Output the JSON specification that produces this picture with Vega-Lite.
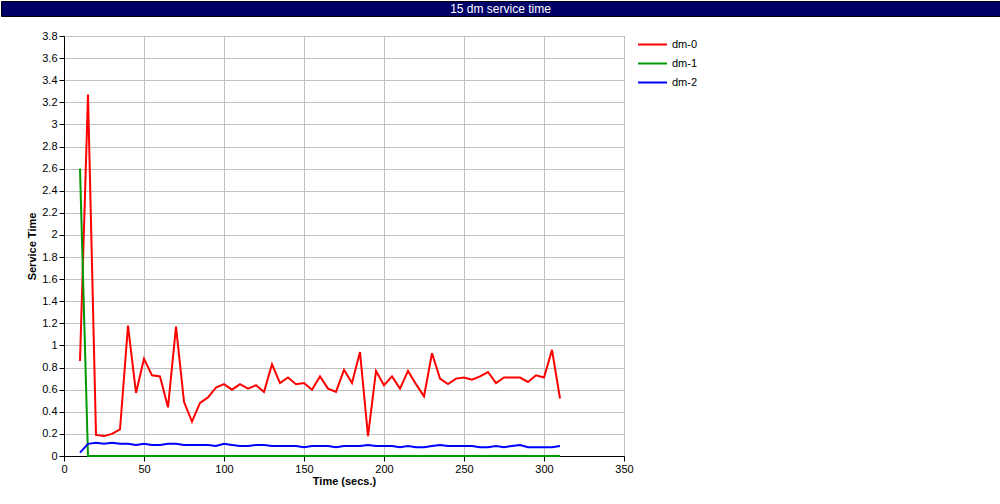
{
  "$schema": "https://vega.github.io/schema/vega-lite/v6.json",
  "padding": 0,
  "background": "white",
  "spacing": 12,
  "resolve": {"legend": {"color": "independent"}, "scale": {"color": "independent"}},
  "config": {
    "font": "Liberation Sans",
    "axis": {
      "labelFont": "Liberation Sans", "labelFontSize": 11, "labelColor": "black",
      "titleFont": "Liberation Sans", "titleFontSize": 11, "titleFontWeight": "bold", "titleColor": "black",
      "domainColor": "black", "tickColor": "black", "tickSize": 5,
      "gridColor": "#c0c0c0", "gridOpacity": 1, "grid": true
    },
    "legend": {
      "labelFont": "Liberation Sans", "labelFontSize": 11, "labelColor": "black"
    }
  },
  "vconcat": [
    {
      "width": 999,
      "height": 15,
      "view": {"fill": "#000066", "stroke": "black"},
      "data": {"values": [{"label": "15 dm service time"}]},
      "mark": {"type": "text", "color": "white", "font": "Liberation Sans", "fontSize": 12, "baseline": "middle", "align": "center"},
      "encoding": {"text": {"field": "label"}}
    },
    {
      "spacing": 0,
      "resolve": {"legend": {"color": "independent"}, "scale": {"color": "independent"}},
      "hconcat": [
        {
          "width": 25,
          "height": 10,
          "view": {"stroke": null},
          "data": {"values": [{"label": ""}]},
          "mark": {"type": "text"},
          "encoding": {"text": {"field": "label"}}
        },
        {
          "width": 560,
          "height": 420,
          "view": {"stroke": "black", "strokeWidth": 1},
          "data": {"values": [
            {"t":10,"s":"dm-0","v":0.86},{"t":15,"s":"dm-0","v":3.27},{"t":20,"s":"dm-0","v":0.19},{"t":25,"s":"dm-0","v":0.18},
            {"t":30,"s":"dm-0","v":0.20},{"t":35,"s":"dm-0","v":0.24},{"t":40,"s":"dm-0","v":1.18},{"t":45,"s":"dm-0","v":0.57},
            {"t":50,"s":"dm-0","v":0.88},{"t":55,"s":"dm-0","v":0.73},{"t":60,"s":"dm-0","v":0.72},{"t":65,"s":"dm-0","v":0.44},
            {"t":70,"s":"dm-0","v":1.17},{"t":75,"s":"dm-0","v":0.49},{"t":80,"s":"dm-0","v":0.31},{"t":85,"s":"dm-0","v":0.48},
            {"t":90,"s":"dm-0","v":0.53},{"t":95,"s":"dm-0","v":0.62},{"t":100,"s":"dm-0","v":0.65},{"t":105,"s":"dm-0","v":0.60},
            {"t":110,"s":"dm-0","v":0.65},{"t":115,"s":"dm-0","v":0.61},{"t":120,"s":"dm-0","v":0.64},{"t":125,"s":"dm-0","v":0.58},
            {"t":130,"s":"dm-0","v":0.83},{"t":135,"s":"dm-0","v":0.66},{"t":140,"s":"dm-0","v":0.71},{"t":145,"s":"dm-0","v":0.65},
            {"t":150,"s":"dm-0","v":0.66},{"t":155,"s":"dm-0","v":0.60},{"t":160,"s":"dm-0","v":0.72},{"t":165,"s":"dm-0","v":0.61},
            {"t":170,"s":"dm-0","v":0.58},{"t":175,"s":"dm-0","v":0.78},{"t":180,"s":"dm-0","v":0.66},{"t":185,"s":"dm-0","v":0.94},
            {"t":190,"s":"dm-0","v":0.18},{"t":195,"s":"dm-0","v":0.77},{"t":200,"s":"dm-0","v":0.64},{"t":205,"s":"dm-0","v":0.72},
            {"t":210,"s":"dm-0","v":0.61},{"t":215,"s":"dm-0","v":0.77},{"t":220,"s":"dm-0","v":0.65},{"t":225,"s":"dm-0","v":0.54},
            {"t":230,"s":"dm-0","v":0.93},{"t":235,"s":"dm-0","v":0.70},{"t":240,"s":"dm-0","v":0.65},{"t":245,"s":"dm-0","v":0.70},
            {"t":250,"s":"dm-0","v":0.71},{"t":255,"s":"dm-0","v":0.69},{"t":260,"s":"dm-0","v":0.72},{"t":265,"s":"dm-0","v":0.76},
            {"t":270,"s":"dm-0","v":0.66},{"t":275,"s":"dm-0","v":0.71},{"t":280,"s":"dm-0","v":0.71},{"t":285,"s":"dm-0","v":0.71},
            {"t":290,"s":"dm-0","v":0.67},{"t":295,"s":"dm-0","v":0.73},{"t":300,"s":"dm-0","v":0.71},{"t":305,"s":"dm-0","v":0.96},
            {"t":310,"s":"dm-0","v":0.52},
            {"t":10,"s":"dm-1","v":2.6},{"t":15,"s":"dm-1","v":0},{"t":20,"s":"dm-1","v":0},{"t":25,"s":"dm-1","v":0},
            {"t":30,"s":"dm-1","v":0},{"t":35,"s":"dm-1","v":0},{"t":40,"s":"dm-1","v":0},{"t":45,"s":"dm-1","v":0},
            {"t":50,"s":"dm-1","v":0},{"t":55,"s":"dm-1","v":0},{"t":60,"s":"dm-1","v":0},{"t":65,"s":"dm-1","v":0},
            {"t":70,"s":"dm-1","v":0},{"t":75,"s":"dm-1","v":0},{"t":80,"s":"dm-1","v":0},{"t":85,"s":"dm-1","v":0},
            {"t":90,"s":"dm-1","v":0},{"t":95,"s":"dm-1","v":0},{"t":100,"s":"dm-1","v":0},{"t":105,"s":"dm-1","v":0},
            {"t":110,"s":"dm-1","v":0},{"t":115,"s":"dm-1","v":0},{"t":120,"s":"dm-1","v":0},{"t":125,"s":"dm-1","v":0},
            {"t":130,"s":"dm-1","v":0},{"t":135,"s":"dm-1","v":0},{"t":140,"s":"dm-1","v":0},{"t":145,"s":"dm-1","v":0},
            {"t":150,"s":"dm-1","v":0},{"t":155,"s":"dm-1","v":0},{"t":160,"s":"dm-1","v":0},{"t":165,"s":"dm-1","v":0},
            {"t":170,"s":"dm-1","v":0},{"t":175,"s":"dm-1","v":0},{"t":180,"s":"dm-1","v":0},{"t":185,"s":"dm-1","v":0},
            {"t":190,"s":"dm-1","v":0},{"t":195,"s":"dm-1","v":0},{"t":200,"s":"dm-1","v":0},{"t":205,"s":"dm-1","v":0},
            {"t":210,"s":"dm-1","v":0},{"t":215,"s":"dm-1","v":0},{"t":220,"s":"dm-1","v":0},{"t":225,"s":"dm-1","v":0},
            {"t":230,"s":"dm-1","v":0},{"t":235,"s":"dm-1","v":0},{"t":240,"s":"dm-1","v":0},{"t":245,"s":"dm-1","v":0},
            {"t":250,"s":"dm-1","v":0},{"t":255,"s":"dm-1","v":0},{"t":260,"s":"dm-1","v":0},{"t":265,"s":"dm-1","v":0},
            {"t":270,"s":"dm-1","v":0},{"t":275,"s":"dm-1","v":0},{"t":280,"s":"dm-1","v":0},{"t":285,"s":"dm-1","v":0},
            {"t":290,"s":"dm-1","v":0},{"t":295,"s":"dm-1","v":0},{"t":300,"s":"dm-1","v":0},{"t":305,"s":"dm-1","v":0},
            {"t":310,"s":"dm-1","v":0},
            {"t":10,"s":"dm-2","v":0.03},{"t":15,"s":"dm-2","v":0.11},{"t":20,"s":"dm-2","v":0.12},{"t":25,"s":"dm-2","v":0.11},
            {"t":30,"s":"dm-2","v":0.12},{"t":35,"s":"dm-2","v":0.11},{"t":40,"s":"dm-2","v":0.11},{"t":45,"s":"dm-2","v":0.10},
            {"t":50,"s":"dm-2","v":0.11},{"t":55,"s":"dm-2","v":0.10},{"t":60,"s":"dm-2","v":0.10},{"t":65,"s":"dm-2","v":0.11},
            {"t":70,"s":"dm-2","v":0.11},{"t":75,"s":"dm-2","v":0.10},{"t":80,"s":"dm-2","v":0.10},{"t":85,"s":"dm-2","v":0.10},
            {"t":90,"s":"dm-2","v":0.10},{"t":95,"s":"dm-2","v":0.09},{"t":100,"s":"dm-2","v":0.11},{"t":105,"s":"dm-2","v":0.10},
            {"t":110,"s":"dm-2","v":0.09},{"t":115,"s":"dm-2","v":0.09},{"t":120,"s":"dm-2","v":0.10},{"t":125,"s":"dm-2","v":0.10},
            {"t":130,"s":"dm-2","v":0.09},{"t":135,"s":"dm-2","v":0.09},{"t":140,"s":"dm-2","v":0.09},{"t":145,"s":"dm-2","v":0.09},
            {"t":150,"s":"dm-2","v":0.08},{"t":155,"s":"dm-2","v":0.09},{"t":160,"s":"dm-2","v":0.09},{"t":165,"s":"dm-2","v":0.09},
            {"t":170,"s":"dm-2","v":0.08},{"t":175,"s":"dm-2","v":0.09},{"t":180,"s":"dm-2","v":0.09},{"t":185,"s":"dm-2","v":0.09},
            {"t":190,"s":"dm-2","v":0.10},{"t":195,"s":"dm-2","v":0.09},{"t":200,"s":"dm-2","v":0.09},{"t":205,"s":"dm-2","v":0.09},
            {"t":210,"s":"dm-2","v":0.08},{"t":215,"s":"dm-2","v":0.09},{"t":220,"s":"dm-2","v":0.08},{"t":225,"s":"dm-2","v":0.08},
            {"t":230,"s":"dm-2","v":0.09},{"t":235,"s":"dm-2","v":0.10},{"t":240,"s":"dm-2","v":0.09},{"t":245,"s":"dm-2","v":0.09},
            {"t":250,"s":"dm-2","v":0.09},{"t":255,"s":"dm-2","v":0.09},{"t":260,"s":"dm-2","v":0.08},{"t":265,"s":"dm-2","v":0.08},
            {"t":270,"s":"dm-2","v":0.09},{"t":275,"s":"dm-2","v":0.08},{"t":280,"s":"dm-2","v":0.09},{"t":285,"s":"dm-2","v":0.10},
            {"t":290,"s":"dm-2","v":0.08},{"t":295,"s":"dm-2","v":0.08},{"t":300,"s":"dm-2","v":0.08},{"t":305,"s":"dm-2","v":0.08},
            {"t":310,"s":"dm-2","v":0.09}
          ]},
          "mark": {"type": "line", "strokeWidth": 2},
          "encoding": {
            "x": {
              "field": "t", "type": "quantitative", "title": "Time (secs.)",
              "scale": {"domain": [0, 350], "nice": false, "zero": true},
              "axis": {"values": [0, 50, 100, 150, 200, 250, 300, 350], "format": "d", "labelPadding": 2, "titlePadding": 1, "labelFlush": false}
            },
            "y": {
              "field": "v", "type": "quantitative", "title": "Service Time",
              "scale": {"domain": [0, 3.8], "nice": false},
              "axis": {"values": [0, 0.2, 0.4, 0.6, 0.8, 1, 1.2, 1.4, 1.6, 1.8, 2, 2.2, 2.4, 2.6, 2.8, 3, 3.2, 3.4, 3.6, 3.8], "format": "~g", "labelPadding": 2, "titlePadding": 4, "labelFlush": false}
            },
            "color": {
              "field": "s", "type": "nominal",
              "scale": {"domain": ["dm-0", "dm-1", "dm-2"], "range": ["#ff0000", "#009900", "#0000ff"]},
              "legend": {"title": null, "orient": "none", "legendX": 573, "legendY": -1, "padding": 0, "symbolType": "stroke", "symbolSize": 841, "symbolStrokeWidth": 2, "labelOffset": 4, "rowPadding": 0, "clipHeight": 19}
            }
          }
        }
      ]
    }
  ]
}
